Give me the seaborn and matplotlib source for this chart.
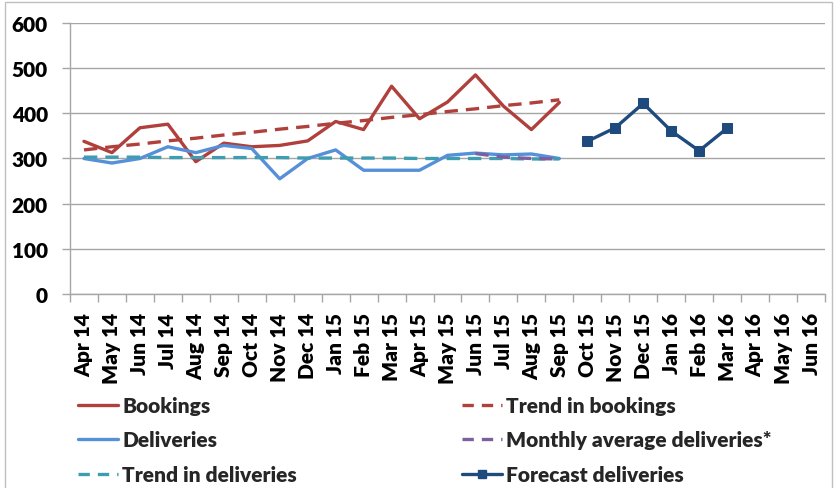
import numpy as np
import pandas as pd
import matplotlib
matplotlib.use("Agg")
import matplotlib.pyplot as plt
import seaborn as sns
from matplotlib.lines import Line2D
from matplotlib.patches import Rectangle

# Categories (months on the x axis)
months = ["Apr 14", "May 14", "Jun 14", "Jul 14", "Aug 14", "Sep 14", "Oct 14",
          "Nov 14", "Dec 14", "Jan 15", "Feb 15", "Mar 15", "Apr 15", "May 15",
          "Jun 15", "Jul 15", "Aug 15", "Sep 15", "Oct 15", "Nov 15", "Dec 15",
          "Jan 16", "Feb 16", "Mar 16", "Apr 16", "May 16", "Jun 16"]

# Series values
bookings = [338, 313, 368, 376, 293, 334, 326, 329, 339, 382, 364, 460,
            388, 425, 485, 416, 364, 424]
trend_bookings = [319, 326, 332, 339, 345, 352, 358, 365, 371, 378, 384, 391,
                  397, 404, 410, 417, 423, 430]
deliveries = [300, 290, 300, 326, 313, 329, 322, 255, 300, 319, 274, 274,
              274, 307, 312, 308, 310, 300]
trend_deliveries = [303, 303, 303, 302, 302, 302, 302, 302, 301, 301, 301, 301,
                    300, 300, 300, 300, 299, 299]
monthly_avg = [311, 303, 300, 299]          # Jun 15 .. Sep 15
forecast = [338, 368, 422, 361, 317, 367]   # Oct 15 .. Mar 16

y_ticks = [0, 100, 200, 300, 400, 500, 600]

c_book = "#B0403C"
c_deliv = "#5590D8"
c_tdeliv = "#3E9DB0"
c_avg = "#7D5FA0"
c_fc = "#1F4A7E"
grey = "#A6A6A6"

sns.set_theme(style="white")
plt.rcParams["font.family"] = ["Lato", "DejaVu Sans"]
plt.rcParams["font.weight"] = "bold"

fig = plt.figure(figsize=(8.34, 4.89), dpi=100)
ax = fig.add_axes([70 / 834, 1 - 295 / 489, 755 / 834, 271 / 489])

lw = 2.4
dash = (4, 2.4)

def series(vals, start):
    return pd.DataFrame({"x": np.arange(start, start + len(vals)), "y": vals})

sns.lineplot(data=series(bookings, 0), x="x", y="y", color=c_book, lw=lw, ax=ax)
sns.lineplot(data=series(trend_bookings, 0), x="x", y="y", color=c_book, lw=lw,
             ax=ax).lines[-1].set_dashes(dash)
sns.lineplot(data=series(deliveries, 0), x="x", y="y", color=c_deliv, lw=lw, ax=ax)
sns.lineplot(data=series(trend_deliveries, 0), x="x", y="y", color=c_tdeliv, lw=lw,
             ax=ax).lines[-1].set_dashes(dash)
sns.lineplot(data=series(monthly_avg, 14), x="x", y="y", color=c_avg, lw=lw,
             ax=ax).lines[-1].set_dashes(dash)
sns.lineplot(data=series(forecast, 18), x="x", y="y", color=c_fc, lw=lw,
             marker="s", markersize=7, markeredgecolor=c_fc, ax=ax)

ax.set_xlim(-0.5, len(months) - 0.5)
ax.set_ylim(0, 600)
ax.set_yticks(y_ticks)
ax.set_yticklabels([str(v) for v in y_ticks], fontsize=15, fontweight="heavy")
ax.set_xticks(np.arange(len(months)))
ax.set_xticklabels(months, rotation=90, fontsize=15, fontweight="heavy")
ax.set_xticks(np.arange(len(months) + 1) - 0.5, minor=True)
ax.tick_params(axis="x", which="major", length=0, pad=13, colors="black")
ax.tick_params(axis="x", which="minor", length=6, width=1, color=grey, bottom=True)
ax.tick_params(axis="y", which="major", length=6, width=1, left=True,
               pad=10, colors="black")
ax.tick_params(axis="y", which="major", color=grey)
ax.set_xlabel("")
ax.set_ylabel("")
ax.yaxis.grid(True, color=grey, lw=1)
ax.set_axisbelow(True)
for s in ["top", "right"]:
    ax.spines[s].set_visible(False)
for s in ["left", "bottom"]:
    ax.spines[s].set_color(grey)
    ax.spines[s].set_linewidth(1)

# Legend, two columns placed like the original
def h(color, dashed=False, marker=None):
    ln = Line2D([], [], color=color, lw=lw, marker=marker, markersize=6,
                markeredgecolor=color)
    if dashed:
        ln.set_dashes((3.4, 2.4))
    return ln

leg_kw = dict(frameon=False, handlelength=1.9, handletextpad=0.22,
              labelspacing=0.74, borderaxespad=0, borderpad=0,
              prop={"weight": "heavy", "size": 15})
fig.legend([h(c_book), h(c_deliv), h(c_tdeliv, True)],
           ["Bookings", "Deliveries", "Trend in deliveries"],
           loc="upper left", bbox_to_anchor=(78 / 834, 1 - 397 / 489), **leg_kw)
fig.legend([h(c_book, True), h(c_avg, True), h(c_fc, marker="s")],
           ["Trend in bookings", "Monthly average deliveries*", "Forecast deliveries"],
           loc="upper left", bbox_to_anchor=(462 / 834, 1 - 397 / 489), **leg_kw)

fig.patches.append(Rectangle((5 / 834, -0.02), 827 / 834, 1.02 - 3 / 489,
                             transform=fig.transFigure, fill=False,
                             edgecolor="#BFBFBF", lw=1))

fig.savefig("out.png", dpi=100)
